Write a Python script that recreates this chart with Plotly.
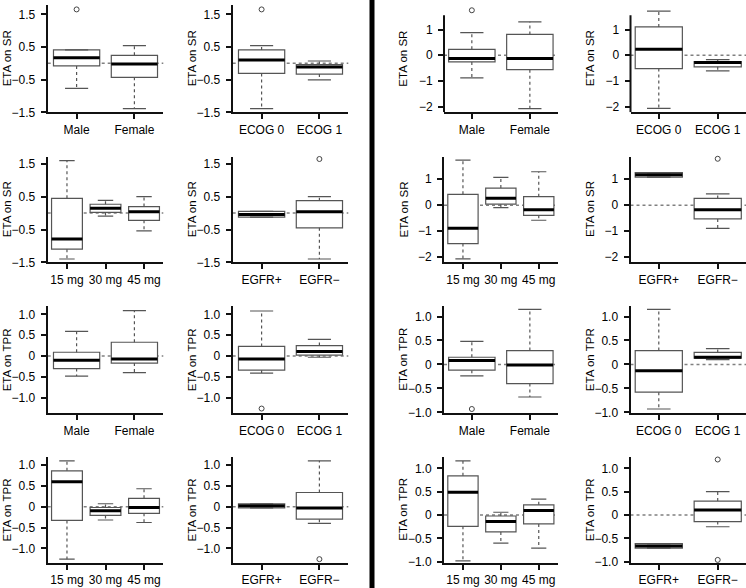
import plotly.graph_objects as go

W, H = 746, 588

# ---------------- data ----------------
SEX = ["Male", "Female"]
ECOG = ["ECOG 0", "ECOG 1"]
DOSE = ["15 mg", "30 mg", "45 mg"]
EGFR = ["EGFR+", "EGFR\u2212"]

SR_TITLE = "ETA on SR"
TPR_TITLE = "ETA on TPR"

# y tick labels
SR_A_TICKS = [-1.5, -0.5, 0.5, 1.5]
SR_A_TEXT = ["\u22121.5", "\u22120.5", "0.5", "1.5"]
SR_B_TICKS = [-2, -1, 0, 1]
SR_B_TEXT = ["\u22122", "\u22121", "0", "1"]
TPR_TICKS = [-1.0, -0.5, 0, 0.5, 1.0]
TPR_TEXT = ["\u22121.0", "\u22120.5", "0", "0.5", "1.0"]

# per category: (lower whisker, q1, median, q3, upper whisker)
A_SR_SEX = [(-0.77, -0.08, 0.17, 0.41, 0.41), (-1.39, -0.43, -0.02, 0.245, 0.54)]
A_SR_SEX_OUT = [[1.65], []]
A_SR_ECOG = [(-1.39, -0.31, 0.10, 0.41, 0.54), (-0.51, -0.33, -0.11, -0.04, 0.07)]
A_SR_ECOG_OUT = [[1.65], []]
A_SR_DOSE = [(-1.40, -1.10, -0.79, 0.45, 1.60), (-0.09, 0.02, 0.15, 0.27, 0.39),
             (-0.54, -0.22, 0.04, 0.20, 0.50)]
A_SR_DOSE_OUT = [[], [], []]
A_SR_EGFR = [(-0.12, -0.12, -0.04, 0.05, 0.05), (-1.40, -0.45, 0.04, 0.38, 0.50)]
A_SR_EGFR_OUT = [[], [1.65]]

A_TPR_SEX = [(-0.48, -0.30, -0.10, 0.09, 0.59), (-0.40, -0.17, -0.07, 0.33, 1.09)]
A_TPR_SEX_OUT = [[], []]
A_TPR_ECOG = [(-0.41, -0.34, -0.07, 0.23, 1.08), (-0.03, 0.02, 0.11, 0.25, 0.40)]
A_TPR_ECOG_OUT = [[-1.26], []]
A_TPR_DOSE = [(-1.26, -0.33, 0.60, 0.86, 1.10), (-0.32, -0.21, -0.10, -0.02, 0.07),
              (-0.38, -0.16, -0.02, 0.20, 0.43)]
A_TPR_DOSE_OUT = [[], [], []]
A_TPR_EGFR = [(-0.03, -0.03, 0.02, 0.07, 0.07), (-0.40, -0.30, -0.03, 0.34, 1.10)]
A_TPR_EGFR_OUT = [[], [-1.26]]

B_SR_SEX = [(-0.88, -0.26, -0.13, 0.23, 0.88), (-2.08, -0.56, -0.13, 0.81, 1.30)]
B_SR_SEX_OUT = [[1.75], []]
B_SR_ECOG = [(-2.07, -0.52, 0.23, 1.10, 1.72), (-0.61, -0.45, -0.28, -0.25, -0.17)]
B_SR_ECOG_OUT = [[], []]
B_SR_DOSE = [(-2.07, -1.48, -0.89, 0.42, 1.74), (-0.09, 0.04, 0.27, 0.66, 1.07),
             (-0.58, -0.39, -0.17, 0.33, 1.29)]
B_SR_DOSE_OUT = [[], [], []]
B_SR_EGFR = [(1.08, 1.08, 1.17, 1.26, 1.26), (-0.89, -0.53, -0.17, 0.26, 0.44)]
B_SR_EGFR_OUT = [[], [1.79]]

B_TPR_SEX = [(-0.24, -0.12, 0.08, 0.15, 0.48), (-0.68, -0.40, -0.01, 0.29, 1.15)]
B_TPR_SEX_OUT = [[-0.93], []]
B_TPR_ECOG = [(-0.93, -0.58, -0.13, 0.29, 1.15), (0.10, 0.13, 0.15, 0.25, 0.33)]
B_TPR_ECOG_OUT = [[], []]
B_TPR_DOSE = [(-0.98, -0.24, 0.49, 0.84, 1.16), (-0.60, -0.36, -0.14, -0.02, 0.06),
              (-0.71, -0.19, 0.10, 0.22, 0.34)]
B_TPR_DOSE_OUT = [[], [], []]
B_TPR_EGFR = [(-0.71, -0.71, -0.66, -0.61, -0.61), (-0.25, -0.14, 0.11, 0.30, 0.50)]
B_TPR_EGFR_OUT = [[], [1.19, -0.96]]

# ---------------- layout geometry (pixels) ----------------
ROWS_PX = [(5, 112.3), (156.7, 262.3), (306, 413.3), (456.7, 562.7)]
COLS_PX = [(47.7, 163.3), (232.7, 348.3), (444, 557.7), (630.5, 746)]

# (row, col, stats, outliers, labels, title, tickvals, ticktext, yrange, yline_top)
PANELS = [
    (0, 0, A_SR_SEX, A_SR_SEX_OUT, SEX, SR_TITLE, SR_A_TICKS, SR_A_TEXT, [-1.5, 1.785], None),
    (0, 1, A_SR_ECOG, A_SR_ECOG_OUT, ECOG, SR_TITLE, SR_A_TICKS, SR_A_TEXT, [-1.5, 1.785], None),
    (1, 0, A_SR_DOSE, A_SR_DOSE_OUT, DOSE, SR_TITLE, SR_A_TICKS, SR_A_TEXT, [-1.5, 1.72], None),
    (1, 1, A_SR_EGFR, A_SR_EGFR_OUT, EGFR, SR_TITLE, SR_A_TICKS, SR_A_TEXT, [-1.5, 1.72], None),
    (2, 0, A_TPR_SEX, A_TPR_SEX_OUT, SEX, TPR_TITLE, TPR_TICKS, TPR_TEXT, [-1.374, 1.2], None),
    (2, 1, A_TPR_ECOG, A_TPR_ECOG_OUT, ECOG, TPR_TITLE, TPR_TICKS, TPR_TEXT, [-1.374, 1.2], None),
    (3, 0, A_TPR_DOSE, A_TPR_DOSE_OUT, DOSE, TPR_TITLE, TPR_TICKS, TPR_TEXT, [-1.345, 1.2], None),
    (3, 1, A_TPR_EGFR, A_TPR_EGFR_OUT, EGFR, TPR_TITLE, TPR_TICKS, TPR_TEXT, [-1.345, 1.2], None),
    (0, 2, B_SR_SEX, B_SR_SEX_OUT, SEX, SR_TITLE, SR_B_TICKS, SR_B_TEXT, [-2.22, 1.955], 1.56),
    (0, 3, B_SR_ECOG, B_SR_ECOG_OUT, ECOG, SR_TITLE, SR_B_TICKS, SR_B_TEXT, [-2.22, 1.955], 1.56),
    (1, 2, B_SR_DOSE, B_SR_DOSE_OUT, DOSE, SR_TITLE, SR_B_TICKS, SR_B_TEXT, [-2.2, 1.87], None),
    (1, 3, B_SR_EGFR, B_SR_EGFR_OUT, EGFR, SR_TITLE, SR_B_TICKS, SR_B_TEXT, [-2.2, 1.87], None),
    (2, 2, B_TPR_SEX, B_TPR_SEX_OUT, SEX, TPR_TITLE, TPR_TICKS, TPR_TEXT, [-1.02, 1.22], None),
    (2, 3, B_TPR_ECOG, B_TPR_ECOG_OUT, ECOG, TPR_TITLE, TPR_TICKS, TPR_TEXT, [-1.02, 1.22], None),
    (3, 2, B_TPR_DOSE, B_TPR_DOSE_OUT, DOSE, TPR_TITLE, TPR_TICKS, TPR_TEXT, [-1.02, 1.25], None),
    (3, 3, B_TPR_EGFR, B_TPR_EGFR_OUT, EGFR, TPR_TITLE, TPR_TICKS, TPR_TEXT, [-1.02, 1.25], None),
]

FONT = "Liberation Sans, Arial, Helvetica, sans-serif"
BOX_C = "#555555"
AX_C = "#111111"

fig = go.Figure()
layout = dict(width=W, height=H, margin=dict(l=0, r=0, t=0, b=0, autoexpand=False),
              paper_bgcolor="white", plot_bgcolor="white", showlegend=False,
              font=dict(family=FONT, size=12, color="black"))
shapes, annotations = [], []

for (r, c, stats, outs, labels, title, tv, tt, yr, ytop) in PANELS:
    idx = r * 4 + c + 1
    xn = "x" if idx == 1 else f"x{idx}"
    yn = "y" if idx == 1 else f"y{idx}"
    xk = "xaxis" if idx == 1 else f"xaxis{idx}"
    yk = "yaxis" if idx == 1 else f"yaxis{idx}"
    n = len(labels)
    pos = list(range(1, n + 1))
    x0p, x1p = COLS_PX[c]
    t_px, b_px = ROWS_PX[r]
    if n == 3:
        xr = [0.5, 3.5]
    elif c < 2:
        xr = [0.5, 2.5]
    else:
        xr = [0.52, 2.48]

    layout[xk] = dict(domain=[x0p / W, x1p / W], anchor=yn, range=xr, automargin=False,
                      tickvals=pos, ticktext=labels, showline=True, linecolor=AX_C,
                      linewidth=2, ticks="outside", ticklen=5, tickwidth=1.5,
                      tickcolor=AX_C, showgrid=False, zeroline=False, tickangle=0,
                      tickfont=dict(size=12, family=FONT, color="black"))
    layout[yk] = dict(domain=[1 - b_px / H, 1 - t_px / H], anchor=xn, range=yr,
                      automargin=False,
                      tickvals=tv, ticktext=tt, showline=(ytop is None), linecolor=AX_C,
                      linewidth=2, ticks="outside", ticklen=5, tickwidth=1.5,
                      tickcolor=AX_C, showgrid=False, zeroline=False,
                      ticklabelstandoff=3,
                      tickfont=dict(size=12, family=FONT, color="black"))

    # dotted zero reference line
    shapes.append(dict(type="line", xref=f"{xn} domain", yref=yn, x0=0, x1=1, y0=0, y1=0,
                       line=dict(color="#808080", width=1.5, dash="dot"), layer="below"))
    if ytop is not None:
        shapes.append(dict(type="line", xref=f"{xn} domain", yref=yn, x0=0, x1=0,
                           y0=yr[0], y1=ytop, line=dict(color=AX_C, width=2)))

    lo = [s[0] for s in stats]
    q1 = [s[1] for s in stats]
    med = [s[2] for s in stats]
    q3 = [s[3] for s in stats]
    hi = [s[4] for s in stats]

    fig.add_trace(go.Box(x=pos, q1=q1, median=med, q3=q3, lowerfence=q1, upperfence=q3,
                         width=0.8, fillcolor="white", line=dict(color=BOX_C, width=1.2),
                         boxpoints=False, hoverinfo="skip", xaxis=xn, yaxis=yn))
    wx, wy, cx, cy, mx, my = [], [], [], [], [], []
    for p, a, b, m, d, e in zip(pos, lo, q1, med, q3, hi):
        wx += [p, p, None, p, p, None]
        wy += [d, e, None, b, a, None]
        cx += [p - 0.2, p + 0.2, None, p - 0.2, p + 0.2, None]
        cy += [e, e, None, a, a, None]
        mx += [p - 0.4, p + 0.4, None]
        my += [m, m, None]
    fig.add_trace(go.Scatter(x=wx, y=wy, mode="lines", hoverinfo="skip", xaxis=xn, yaxis=yn,
                             line=dict(color=BOX_C, width=1.2, dash="3px,3px")))
    fig.add_trace(go.Scatter(x=cx, y=cy, mode="lines", hoverinfo="skip", xaxis=xn, yaxis=yn,
                             line=dict(color=BOX_C, width=1.2)))
    fig.add_trace(go.Scatter(x=mx, y=my, mode="lines", hoverinfo="skip", xaxis=xn, yaxis=yn,
                             line=dict(color="black", width=3)))
    ox, oy = [], []
    for p, vals in zip(pos, outs):
        for v in vals:
            ox.append(p)
            oy.append(v)
    if ox:
        fig.add_trace(go.Scatter(x=ox, y=oy, mode="markers", hoverinfo="skip",
                                 xaxis=xn, yaxis=yn, cliponaxis=False,
                                 marker=dict(symbol="circle-open", size=5, color="#444444",
                                             line=dict(width=1))))

    annotations.append(dict(text=title, textangle=-90, xref="paper", yref="paper",
                            x=(x0p - 41) / W, y=1 - (t_px + b_px) / 2 / H,
                            xanchor="center", yanchor="middle", showarrow=False,
                            borderpad=0,
                            font=dict(size=11.5, family=FONT, color="black")))

# divider between the two halves
shapes.append(dict(type="line", xref="paper", yref="paper", x0=372 / W, x1=372 / W,
                   y0=0, y1=1, line=dict(color="black", width=5)))

layout["shapes"] = shapes
layout["annotations"] = annotations
fig.update_layout(**layout)
fig.write_html("out.html", config={"displayModeBar": False},
               post_script="document.body.style.margin='0';document.body.style.overflow='hidden';")
